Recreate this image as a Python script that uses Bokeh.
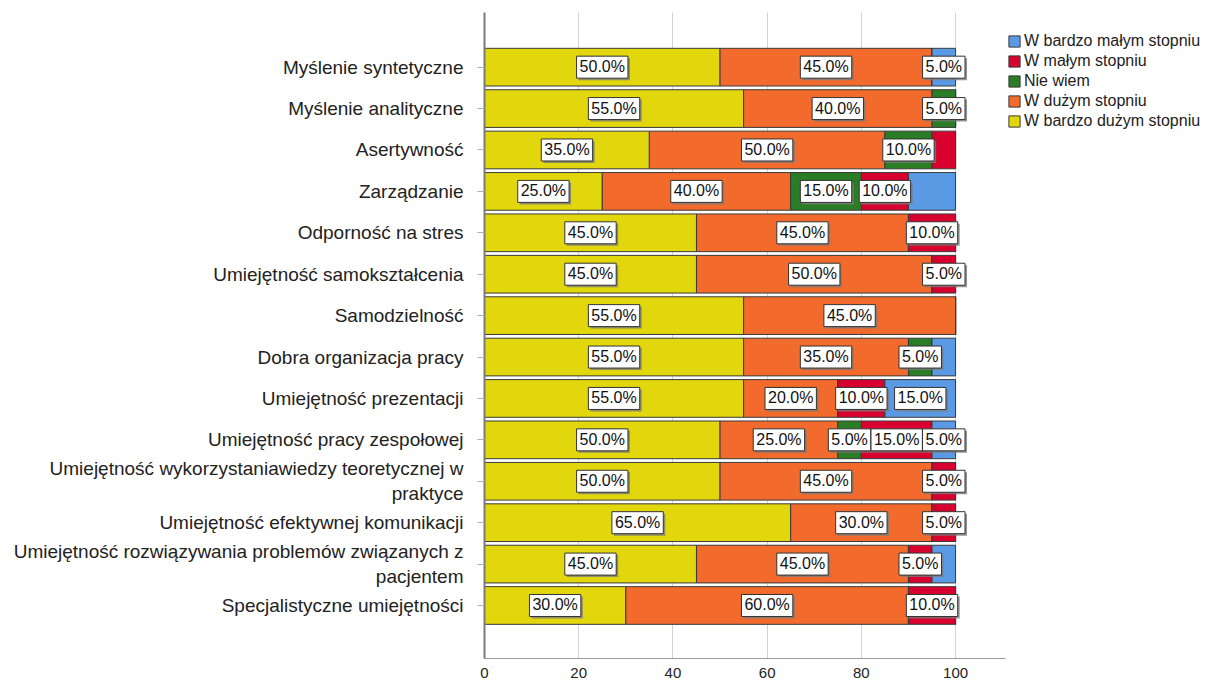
from bokeh.plotting import figure
from bokeh.models import (ColumnDataSource, Range1d, FixedTicker, Legend, LegendItem)
from bokeh.core.properties import value
from bokeh.embed import file_html
from bokeh.resources import INLINE

categories = [
    "Myślenie syntetyczne",
    "Myślenie analityczne",
    "Asertywność",
    "Zarządzanie",
    "Odporność na stres",
    "Umiejętność samokształcenia",
    "Samodzielność",
    "Dobra organizacja pracy",
    "Umiejętność prezentacji",
    "Umiejętność pracy zespołowej",
    "Umiejętność wykorzystaniawiedzy teoretycznej w\npraktyce",
    "Umiejętność efektywnej komunikacji",
    "Umiejętność rozwiązywania problemów związanych z\npacjentem",
    "Specjalistyczne umiejętności",
]

series_names = ["W bardzo dużym stopniu", "W dużym stopniu", "Nie wiem",
                "W małym stopniu", "W bardzo małym stopniu"]
bardzo_duzy = [50, 55, 35, 25, 45, 45, 55, 55, 55, 50, 50, 65, 45, 30]
duzy = [45, 40, 50, 40, 45, 50, 45, 35, 20, 25, 45, 30, 45, 60]
nie_wiem = [0, 5, 10, 15, 0, 0, 0, 5, 0, 5, 0, 0, 0, 0]
maly = [0, 0, 5, 10, 10, 5, 0, 0, 10, 15, 5, 5, 5, 10]
bardzo_maly = [5, 0, 0, 10, 0, 0, 0, 5, 15, 5, 0, 0, 5, 0]
colors = ["#E2D60C", "#F26A2C", "#2A7D24", "#D8002F", "#5A9AE4"]
# labels the original chart does not show (category index, series index)
hidden_labels = [(2, 3), (3, 4), (7, 4), (12, 4)]
x_ticks = [0, 20, 40, 60, 80, 100]

series = [bardzo_duzy, duzy, nie_wiem, maly, bardzo_maly]
keys = ["s0", "s1", "s2", "s3", "s4"]
n = len(categories)
ypos = [n - i for i in range(n)]

data = {"y": ypos}
for k, s in zip(keys, series):
    data[k] = s
source = ColumnDataSource(data)

FH = 646
p = figure(frame_width=521, frame_height=FH, output_backend="svg",
           toolbar_location=None, x_range=Range1d(0, 110.6),
           y_range=Range1d(-0.28, n + 1.32),
           min_border_left=484, min_border_right=199, min_border_top=12,
           min_border_bottom=0)
p.outline_line_color = None
p.background_fill_color = "white"

renderers = p.hbar_stack(keys, y="y", height=0.91, color=colors,
                         line_color="#3a3a3a", line_width=1, source=source)

# percentage labels
lx, ly, lt = [], [], []
for i in range(n):
    left = 0
    for j, s in enumerate(series):
        v = s[i]
        if v > 0 and (i, j) not in hidden_labels:
            lx.append(left + v / 2)
            ly.append(ypos[i])
            lt.append(f"{v:.1f}%")
        left += v
lsrc = ColumnDataSource(dict(x=lx, y=ly, t=lt))
pad = (3, 3, 2, 3)
p.text(x="x", y="y", text="t", source=lsrc, x_offset=2, y_offset=2,
       text_align="center", text_baseline="middle", text_alpha=0,
       text_font=value("Liberation Sans"), text_font_size="16px",
       background_fill_color="#7a7a7a", background_fill_alpha=0.8,
       padding=pad)
p.text(x="x", y="y", text="t", source=lsrc,
       text_align="center", text_baseline="middle", text_color="#111111",
       text_font=value("Liberation Sans"), text_font_size="16px",
       background_fill_color="white", border_line_color="#333333",
       border_line_width=1, padding=pad)

# axes
p.xaxis.ticker = FixedTicker(ticks=x_ticks)
p.xaxis.major_tick_out = 0
p.xaxis.major_tick_in = 0
p.xaxis.minor_tick_out = 0
p.xaxis.minor_tick_in = 0
p.xaxis.axis_line_color = "#9a9a9a"
p.xaxis.major_label_text_font = "Liberation Sans"
p.xaxis.major_label_text_font_size = "15px"
p.xaxis.major_label_text_color = "#222222"
p.xaxis.major_label_standoff = 9

p.yaxis.ticker = FixedTicker(ticks=ypos)
p.yaxis.major_label_overrides = {y: c for y, c in zip(ypos, categories)}
p.yaxis.major_tick_out = 7
p.yaxis.major_tick_in = 0
p.yaxis.minor_tick_out = 0
p.yaxis.minor_tick_in = 0
p.yaxis.major_tick_line_color = "#b0b0b0"
p.yaxis.axis_line_color = "#7a7a7a"
p.yaxis.axis_line_width = 2
p.yaxis.major_label_text_font = "Liberation Sans"
p.yaxis.major_label_text_font_size = "19px"
p.yaxis.major_label_text_color = "#222222"
p.yaxis.major_label_standoff = 14

p.xgrid.ticker = FixedTicker(ticks=x_ticks[1:])
p.xgrid.grid_line_color = "#d2d2d2"
p.ygrid.grid_line_color = None

items = [LegendItem(label=series_names[j], renderers=[renderers[j]])
         for j in range(4, -1, -1)]
legend = Legend(items=items, location=(2, FH - 19 - 100))
legend.label_text_font = "Liberation Sans"
legend.label_text_font_size = "16px"
legend.label_text_color = "#222222"
legend.glyph_width = 14
legend.glyph_height = 14
legend.label_height = 20
legend.label_standoff = 3
legend.spacing = 0
legend.padding = 0
legend.margin = 0
legend.border_line_color = None
legend.background_fill_alpha = 0
p.add_layout(legend, "right")

open("out.html", "w").write(file_html(p, INLINE))
